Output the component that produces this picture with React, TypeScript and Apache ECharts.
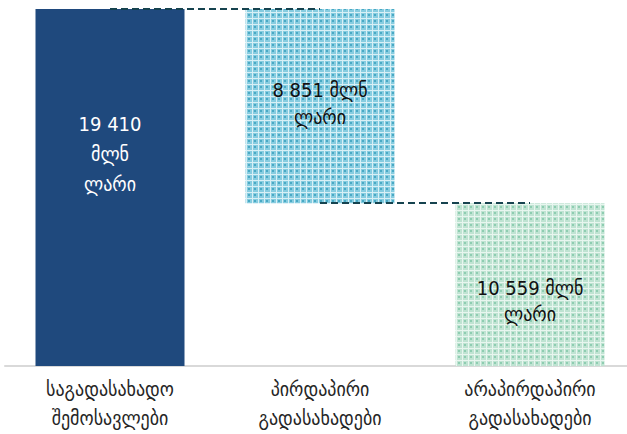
import React, { useEffect, useRef } from "react";
import * as echarts from "echarts";

const categories = ["საგადასახადო\nშემოსავლები", "პირდაპირი\nგადასახადები", "არაპირდაპირი\nგადასახადები"];
// bar geometry as drawn (invisible base + visible height), in mln GEL
const baseValues = [0, 8851, 0];
const barValues = [19410, 10559, 8851];
// label texts as printed on the bars
const labelTexts = ["19 410\nმლნ\nლარი", "8 851 მლნ\nლარი", "10 559 მლნ\nლარი"];
const connectorLevels = [19410, 8851];

function makePattern(white: string, light: string, dark: string) {
  const c = document.createElement("canvas");
  c.width = 6;
  c.height = 6;
  const ctx = c.getContext("2d")!;
  for (let y = 0; y < 6; y++) {
    for (let x = 0; x < 6; x++) {
      let col = light;
      if (x === 0 || y === 0) col = white;
      else if ((x === 2 || x === 3) && (y === 2 || y === 3)) col = dark;
      ctx.fillStyle = col;
      ctx.fillRect(x, y, 1, 1);
    }
  }
  return { image: c, repeat: "repeat" as const };
}

export default function App() {
  const ref = useRef<HTMLDivElement>(null);
  useEffect(() => {
    document.body.style.margin = "0";
    const chart = echarts.init(ref.current!, null, { renderer: "svg" });
    const font = "'DejaVu Sans Condensed', 'DejaVu Sans', sans-serif";
    const bluePat = makePattern("#d8f0f6", "#86cce0", "#49a9c4");
    const greenPat = makePattern("#e8f6ef", "#bfe3d2", "#8ecdb1");
    const styles = [
      { color: "#1f497d" },
      { color: bluePat },
      { color: greenPat },
    ];
    const labelStyles = [
      { color: "#ffffff", offset: [0, -34], lineHeight: 30 },
      { color: "#111111", offset: [0, -3], lineHeight: 27 },
      { color: "#111111", offset: [0, 16], lineHeight: 26 },
    ];
    chart.setOption({
      animation: false,
      grid: { left: 5, right: -8, top: 9, bottom: 68, outerBoundsMode: "none", containLabel: false },
      xAxis: {
        type: "category",
        data: categories,
        axisLine: { lineStyle: { color: "#d9d9d9", width: 2 } },
        axisTick: { show: false },
        axisLabel: {
          color: "#262626",
          fontSize: 20,
          lineHeight: 29,
          margin: 8,
          fontFamily: font,
          interval: 0,
        },
      },
      yAxis: {
        type: "value",
        min: 0,
        max: 19410,
        show: false,
        splitLine: { show: false },
      },
      series: [
        {
          type: "bar",
          stack: "w",
          data: baseValues,
          barWidth: 149,
          itemStyle: { color: "transparent" },
          silent: true,
        },
        {
          type: "bar",
          stack: "w",
          barWidth: 149,
          data: barValues.map((v, i) => ({
            value: v,
            itemStyle: styles[i],
            label: {
              show: true,
              position: "inside",
              formatter: () => labelTexts[i],
              fontSize: 20,
              fontFamily: font,
              color: labelStyles[i].color,
              lineHeight: labelStyles[i].lineHeight,
              offset: labelStyles[i].offset,
            },
          })),
          markLine: {
            silent: true,
            symbol: "none",
            label: { show: false },
            lineStyle: { color: "#16434f", width: 2, type: [7, 4] },
            data: [
              [{ coord: [0, connectorLevels[0]] }, { coord: [1, connectorLevels[0]] }],
              [{ coord: [1, connectorLevels[1]] }, { coord: [2, connectorLevels[1]] }],
            ],
          },
        },
      ],
    });
    return () => chart.dispose();
  }, []);
  return <div ref={ref} style={{ width: 627, height: 434 }} />;
}
